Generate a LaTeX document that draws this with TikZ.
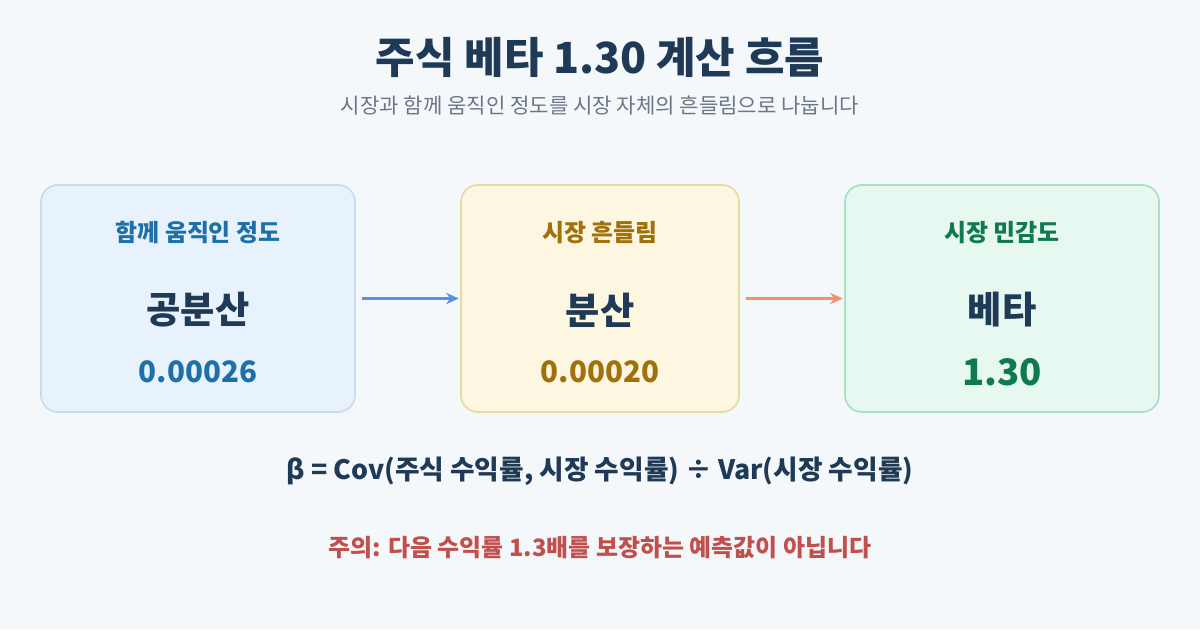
\documentclass[tikz,border=0pt]{standalone}
\usepackage{fontspec}
\setmainfont{Noto Sans CJK KR}
\usetikzlibrary{arrows.meta}
\definecolor{bgc}{HTML}{F5F8FB}
\definecolor{titlec}{HTML}{1F3A56}
\definecolor{subc}{HTML}{6B7785}
\definecolor{cvfill}{HTML}{E8F2FD}\definecolor{cvline}{HTML}{C9DCEF}\definecolor{cvtext}{HTML}{1F6FA8}
\definecolor{vrfill}{HTML}{FDF6E0}\definecolor{vrline}{HTML}{EAD9A0}\definecolor{vrtext}{HTML}{A0700A}
\definecolor{btfill}{HTML}{E6F8EF}\definecolor{btline}{HTML}{A8DFC6}\definecolor{bttext}{HTML}{0F7A50}
\definecolor{arblue}{HTML}{5B8FE0}\definecolor{arorange}{HTML}{F4906A}
\definecolor{warnc}{HTML}{C0504D}
\tikzset{
  box/.style={rounded corners=12pt, line width=1.2pt, minimum width=314\px, minimum height=227\px},
  head/.style={font=\fontsize{17}{20}\selectfont\bfseries},
  word/.style={font=\fontsize{26.5}{30}\selectfont\bfseries, text=titlec},
  val/.style={font=\fontsize{21}{25}\selectfont\bfseries},
  flow/.style={line width=2pt, -{Stealth[length=9pt,width=8pt]}}
}
\newlength{\px}\setlength{\px}{0.025cm}
\begin{document}
\begin{tikzpicture}[x=0.025cm, y=-0.025cm]
\fill[bgc] (0,0) rectangle (1200,630);
\useasboundingbox (0,0) rectangle (1200,630);

\node[font=\fontsize{30.5}{35}\selectfont\bfseries, text=titlec] (title) at (600,57) {주식 베타 1.30 계산 흐름};
\node[font=\fontsize{15}{18}\selectfont, text=subc] (sub) at (600,106) {시장과 함께 움직인 정도를 시장 자체의 흔들림으로 나눕니다};

% boxes
\node[box, fill=cvfill, draw=cvline] (cov) at (198,298.5) {};
\node[box, fill=vrfill, draw=vrline, minimum width=278\px] (var) at (600,298.5) {};
\node[box, fill=btfill, draw=btline] (beta) at (1002,298.5) {};

\node[head, text=cvtext] (covh) at (198,233) {함께 움직인 정도};
\node[word] (covw) at (198,310) {공분산};
\node[val, text=cvtext] (covv) at (198,372) {0.00026};

\node[head, text=vrtext] (varh) at (600,233) {시장 흔들림};
\node[word] (varw) at (600,310) {분산};
\node[val, text=vrtext] (varv) at (600,372) {0.00020};

\node[head, text=bttext] (betah) at (1002,233) {시장 민감도};
\node[word] (betaw) at (1002,310) {베타};
\node[font=\fontsize{26}{30}\selectfont\bfseries, text=bttext] (betav) at (1002,372) {1.30};

\draw[flow, arblue] (cov.east) ++(6,0) -- ([xshift=-1pt]var.west);
\draw[flow, arorange] (var.east) ++(6,0) -- ([xshift=-1pt]beta.west);

\node[font=\fontsize{19}{22}\selectfont\bfseries, text=titlec] (formula) at (600,471) {β = Cov(주식 수익률, 시장 수익률) ÷ Var(시장 수익률)};
\node[font=\fontsize{17}{20}\selectfont\bfseries, text=warnc] (warn) at (600,548) {주의: 다음 수익률 1.3배를 보장하는 예측값이 아닙니다};
\end{tikzpicture}
\end{document}
